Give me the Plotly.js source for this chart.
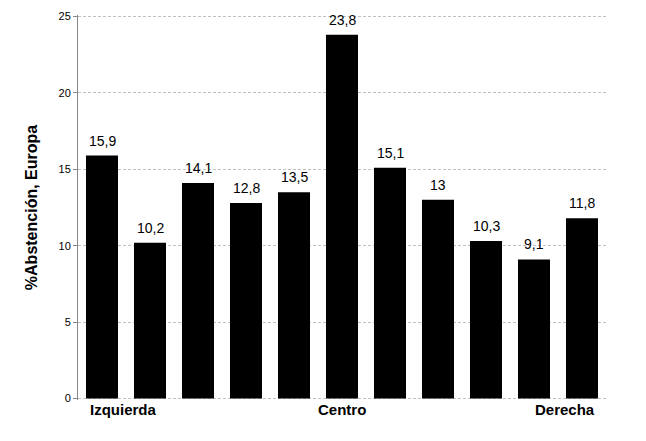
<!DOCTYPE html>
<html><head><meta charset="utf-8">
<script src="https://cdn.plot.ly/plotly-3.0.1.min.js"></script>
<style>html,body{margin:0;padding:0;background:#fff}</style>
</head><body>
<div id="chart" style="width:646px;height:441px"></div>
<script>
const categories = ["c1","c2","c3","c4","c5","c6","c7","c8","c9","c10","c11"];
const values = [15.9, 10.2, 14.1, 12.8, 13.5, 23.8, 15.1, 13, 10.3, 9.1, 11.8];
const axisLabels = ["Izquierda", "Centro", "Derecha"];
const axisLabelPos = [0, 5, 10];
const yTicks = [0, 5, 10, 15, 20, 25];

const trace = {
  type: 'bar',
  x: categories,
  y: values,
  marker: {color: '#000000'},
  hoverinfo: 'none'
};

const anchors = ['left', 'center', 'right'];
const shifts = [-14, 0, 15];

const valueLabels = values.map((v, i) => ({
  x: i, y: v, xref: 'x', yref: 'y',
  text: String(v).replace('.', ','), showarrow: false,
  xanchor: 'center', yanchor: 'bottom', yshift: 5,
  font: {family: 'Liberation Sans, Arial', size: 14, color: '#000'}
}));

const sideLabels = axisLabels.map((t, i) => ({
  x: axisLabelPos[i], y: 0, xref: 'x', yref: 'y',
  text: '<b>' + t + '</b>', showarrow: false,
  xanchor: anchors[i], yanchor: 'top', xshift: shifts[i], yshift: -1,
  font: {family: 'Liberation Sans, Arial', size: 15, color: '#000'}
}));

const layout = {
  width: 646, height: 441,
  margin: {l: 78, r: 40, t: 14.5, b: 40.5},
  paper_bgcolor: '#fff', plot_bgcolor: '#fff',
  separators: ',.',
  bargap: 0.333,
  showlegend: false,
  font: {family: 'Liberation Sans, Arial', color: '#000'},
  xaxis: {
    type: 'category',
    showticklabels: false,
    showline: false, showgrid: false, ticks: '', zeroline: false,
    range: [-0.5, 10.5]
  },
  yaxis: {
    range: [-0.1, 25.1],
    tickvals: yTicks,
    ticktext: yTicks.map(String),
    ticks: 'outside', ticklen: 4, tickcolor: '#888',
    showline: true, linecolor: '#888', linewidth: 1,
    showgrid: true, gridcolor: '#c0c0c0', griddash: '3px,2px', gridwidth: 1,
    zeroline: false,
    tickfont: {family: 'Liberation Sans, Arial', size: 11, color: '#000'},
    title: {text: '%Abstención, Europa', font: {family: 'Liberation Sans, Arial', size: 16, color: '#000', weight: 'bold'}, standoff: 16}
  },
  annotations: valueLabels.concat(sideLabels)
};

Plotly.newPlot('chart', [trace], layout, {displayModeBar: false, staticPlot: true});
</script>
</body></html>
